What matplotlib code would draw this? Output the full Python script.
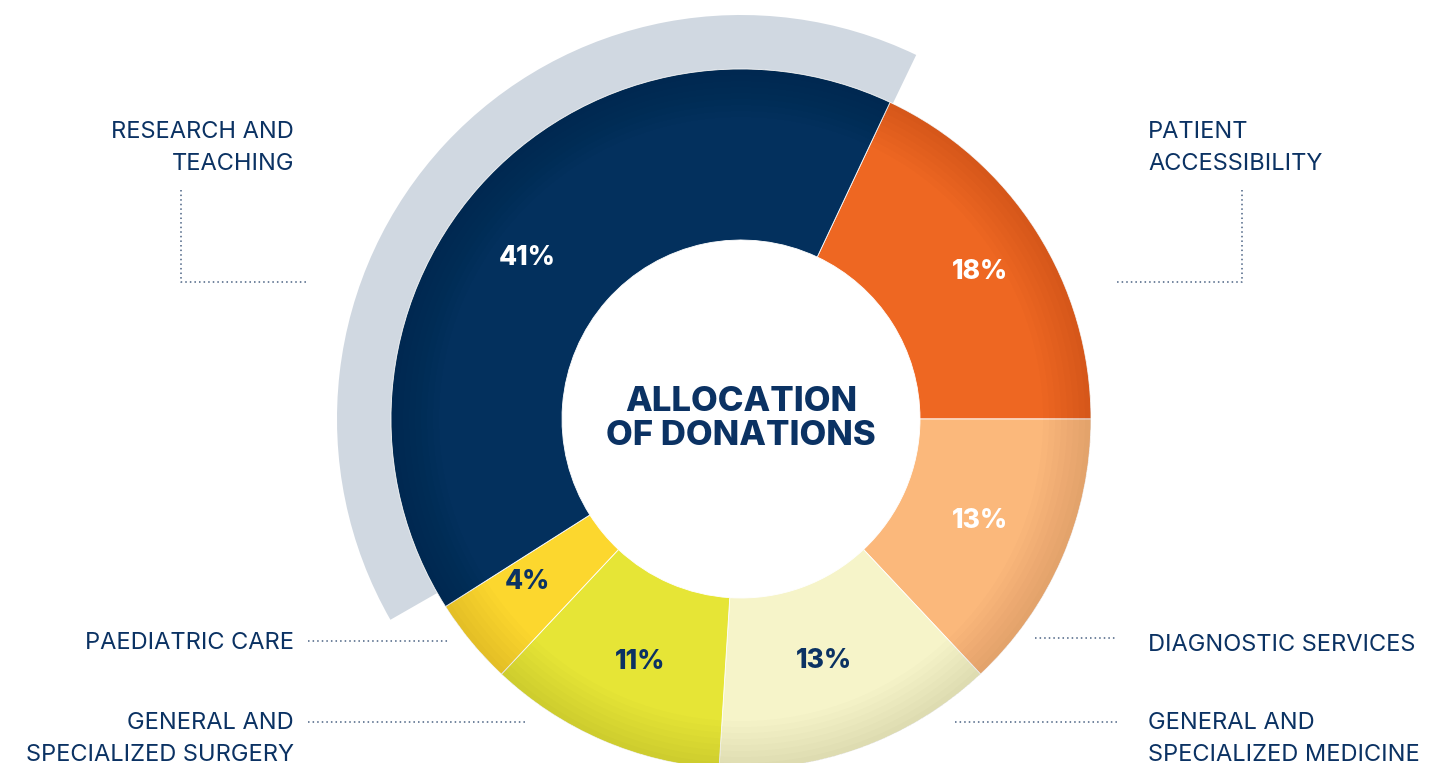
import matplotlib
matplotlib.use("Agg")
import numpy as np
import matplotlib.pyplot as plt
from matplotlib.patches import Wedge

plt.rcParams['font.family'] = ['Inter', 'DejaVu Sans']

# data
categories = ["PATIENT\nACCESSIBILITY", "DIAGNOSTIC SERVICES", "GENERAL AND\nSPECIALIZED MEDICINE",
              "GENERAL AND\nSPECIALIZED SURGERY", "PAEDIATRIC CARE", "RESEARCH AND\nTEACHING"]
shares = [18, 13, 13, 11, 4, 41]
colors = ["#ee6722", "#fbb87b", "#f6f4c9", "#e6e536", "#fcd72e", "#03305d"]
pct_colors = ["white", "white", "#0b3263", "#0b3263", "#0b3263", "white"]
title = "ALLOCATION\nOF DONATIONS"

W, H = 1453, 763
navy = "#0b3263"
dotc = "#4a6283"

fig = plt.figure(figsize=(W / 100, H / 100), dpi=100)
ax = fig.add_axes([0, 0, 1, 1])

cx, cy = 741, H - 419
R, r_in = 350, 179

# grey highlight arc behind the biggest slice
ax.add_patch(Wedge((cx, cy), 404, 64.3, 209.8, width=54, facecolor="#d0d8e1", edgecolor="none"))

wedges, texts, autotexts = ax.pie(
    shares, colors=colors, startangle=64.8, counterclock=False, center=(cx, cy), radius=R,
    autopct="%d%%", pctdistance=0.76, frame=True,
    wedgeprops=dict(width=R - r_in, edgecolor="white", linewidth=0.6))

# label spots picked by hand (angle, radius) like in the design
spots = [(31.6, 281), (-23, 260), (-71, 256), (-112.6, 263), (-142.7, 269), (143, 268)]
for t, c, (a, rr) in zip(autotexts, pct_colors, spots):
    t.set_position((cx + rr * np.cos(np.radians(a)), cy + rr * np.sin(np.radians(a))))
    t.set_color(c)
    t.set_fontsize(19)
    t.set_fontweight("heavy")

# slight darkening at outer edge
for i in range(8):
    ax.add_patch(Wedge((cx, cy), R, 0, 360, width=6 * (i + 1), facecolor="black",
                       edgecolor="none", alpha=0.01))

ax.text(cx, cy, title, ha="center", va="center", fontsize=25, fontweight="heavy",
        color=navy, linespacing=1.1)

def px(x, y):
    return x, H - y

lab_kw = dict(fontsize=17, color=navy, linespacing=1.56)
# left labels
ax.text(*px(294, 148), categories[5], ha="right", va="center", **lab_kw)
ax.text(*px(294, 643), categories[4], ha="right", va="center", **lab_kw)
ax.text(*px(294, 739), categories[3], ha="right", va="center", **lab_kw)
# right labels
ax.text(*px(1148, 148), categories[0], ha="left", va="center", **lab_kw)
ax.text(*px(1148, 645), categories[1], ha="left", va="center", **lab_kw)
ax.text(*px(1148, 739), categories[2], ha="left", va="center", **lab_kw)

ln_kw = dict(color=dotc, linewidth=1.1, linestyle=(0, (1, 2)))
def leader(xs, ys):
    ax.plot(xs, [H - y for y in ys], **ln_kw)

leader([181, 181, 308], [190, 282, 282])
leader([1242, 1242, 1115], [190, 282, 282])
leader([308, 448], [641, 641])
leader([308, 528], [722, 722])
leader([1035, 1115], [638, 638])
leader([955, 1117], [722, 722])

ax.set_xlim(0, W)
ax.set_ylim(0, H)
ax.set_aspect("equal")
ax.axis("off")

fig.savefig("out.png", dpi=100, facecolor="white")
